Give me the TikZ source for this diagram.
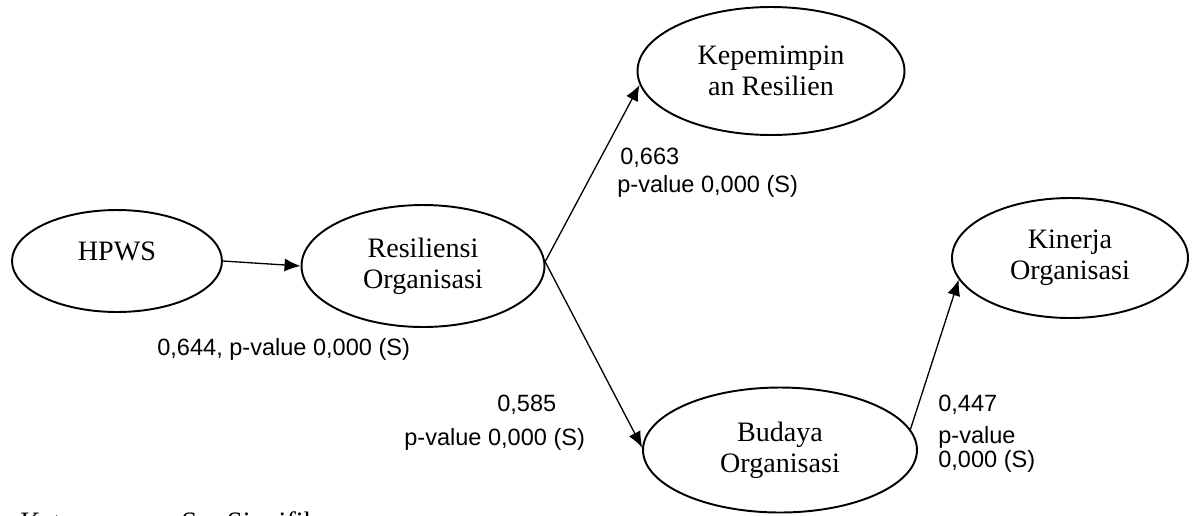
\documentclass[tikz,border=0pt]{standalone}
\usepackage{fontspec}
\setmainfont{Liberation Serif}
\newfontfamily\semsans{Liberation Sans}
\usetikzlibrary{arrows.meta,shapes.geometric}
\tikzset{
  sem/latent/.style={
    ellipse,
    draw=black,
    line width=1.1pt,
    fill=white,
    inner sep=0pt,
    align=center,
    font=\fontsize{16}{17.6}\selectfont
  },
  sem/arrow/.style={-{Latex[length=3.2mm,width=2.6mm]}, line width=0.75pt, draw=black},
  sem/coef/.style={anchor=base west, inner sep=0pt, font=\semsans\fontsize{13.4}{16}\selectfont},
  sem/note/.style={anchor=base west, inner sep=0pt, font=\fontsize{16}{17.6}\selectfont}
}

\begin{document}
\begin{tikzpicture}[x=0.02cm,y=-0.02cm]
  \useasboundingbox (0,0) rectangle (1197,515);
  \node[sem/latent,minimum width=4.2cm,minimum height=2.04cm,text depth=0.38cm] (hpws) at (117,261) {HPWS};
  \node[sem/latent,minimum width=4.86cm,minimum height=2.44cm] (res) at (423,266) {Resiliensi\\Organisasi};
  \node[sem/latent,minimum width=5.34cm,minimum height=2.56cm] (kep) at (771,71) {Kepemimpin\\an Resilien};
  \node[sem/latent,minimum width=4.72cm,minimum height=2.4cm] (kin) at (1070,258) {Kinerja\\Organisasi};
  \node[sem/latent,minimum width=5.48cm,minimum height=2.5cm] (bud) at (780,450) {Budaya\\Organisasi};
  \draw[sem/arrow] (hpws.east) -- (res.west);
  \draw[sem/arrow] (res.2) -- (kep.186);
  \draw[sem/arrow] (res.2) -- (bud.179);
  \draw[sem/arrow] (bud.9) -- (kin.191);
  \node[sem/coef] (c1) at (157,355) {0,644, p-value 0,000 (S)};
  \node[sem/coef] (c2a) at (620,164) {0,663};
  \node[sem/coef] (c2b) at (617,192) {p-value 0,000 (S)};
  \node[sem/coef] (c3a) at (497,411) {0,585};
  \node[sem/coef] (c3b) at (404,445) {p-value 0,000 (S)};
  \node[sem/coef] (c4a) at (938,411) {0,447};
  \node[sem/coef] (c4b) at (938,443) {p-value};
  \node[sem/coef] (c4c) at (938,467) {0,000 (S)};
  \node[sem/note] (ket) at (20,531) {Keterangan :\hspace{0.6em}S = Signifikan};
\end{tikzpicture}
\end{document}
